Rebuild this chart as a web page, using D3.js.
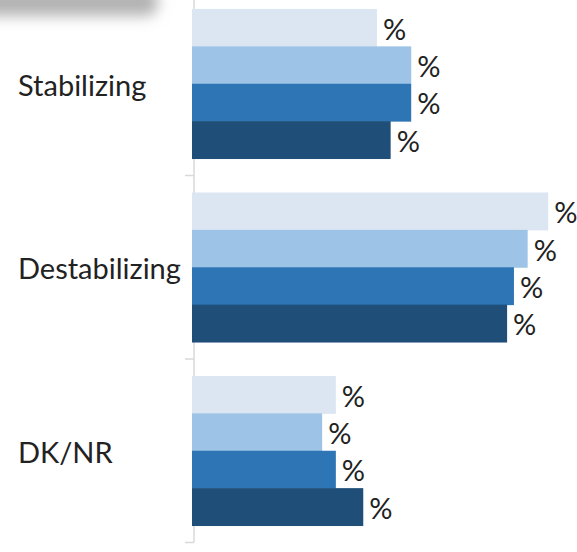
<!DOCTYPE html>
<html>
<head>
<meta charset="utf-8">
<script src="https://cdn.jsdelivr.net/npm/d3@7"></script>
<style>
  html, body { margin: 0; padding: 0; background: #fff; }
  svg { display: block; }
  text { font-family: Lato, "Open Sans", sans-serif; fill: #222; }
</style>
</head>
<body>
<svg id="chart" width="577" height="552"></svg>
<script>
const categories = ["Stabilizing", "Destabilizing", "DK/NR"];
const seriesNames = ["Series 1", "Series 2", "Series 3", "Series 4"];
const series1 = [27, 52, 21];
const series2 = [32, 49, 19];
const series3 = [32, 47, 21];
const series4 = [29, 46, 25];
const seriesValues = [series1, series2, series3, series4];
const colors = ["#dce6f2", "#9dc3e6", "#2e75b6", "#1f4e79"];

const svg = d3.select("#chart");

// soft shadow at top-left (edge of a cropped box above the chart)
const defs = svg.append("defs");
defs.append("filter").attr("id", "blur").attr("filterUnits", "userSpaceOnUse")
  .attr("x", -150).attr("y", -150).attr("width", 500).attr("height", 300)
  .append("feGaussianBlur").attr("stdDeviation", 7);
svg.append("rect")
  .attr("x", -60).attr("y", -12).attr("width", 218).attr("height", 28)
  .attr("rx", 12)
  .attr("fill", "#b3b3b3")
  .attr("filter", "url(#blur)");

const x = d3.scaleLinear().domain([0, 100]).range([192, 877]);
const y0 = d3.scaleBand().domain(categories).range([-8, 542.5])
  .paddingInner(0.185).paddingOuter(0.0925);
const y1 = d3.scaleBand().domain(d3.range(seriesNames.length)).range([0, y0.bandwidth()]);

// axis line and ticks between categories
const axisX = 194;
const boundaries = d3.range(categories.length + 1).map(i => y0.range()[0] + i * y0.step());
svg.append("line")
  .attr("x1", axisX).attr("x2", axisX)
  .attr("y1", boundaries[0]).attr("y2", boundaries[boundaries.length - 1])
  .attr("stroke", "#d9d9d9").attr("stroke-width", 1.5);
svg.selectAll("line.tick").data(boundaries).join("line")
  .attr("class", "tick")
  .attr("x1", axisX - 9).attr("x2", axisX)
  .attr("y1", d => d).attr("y2", d => d)
  .attr("stroke", "#d9d9d9").attr("stroke-width", 1.5);

const groups = svg.selectAll("g.cat").data(categories).join("g")
  .attr("class", "cat")
  .attr("transform", d => `translate(0,${y0(d)})`);

groups.selectAll("rect").data((d, ci) => seriesValues.map((s, si) => ({ si, v: s[ci] }))).join("rect")
  .attr("x", x(0))
  .attr("y", d => y1(d.si))
  .attr("width", d => x(d.v) - x(0))
  .attr("height", y1.bandwidth() + 0.5)
  .attr("fill", d => colors[d.si]);

groups.selectAll("text.val").data((d, ci) => seriesValues.map((s, si) => ({ si, v: s[ci] }))).join("text")
  .attr("class", "val")
  .attr("x", d => x(d.v) + 6)
  .attr("y", d => y1(d.si) + y1.bandwidth() / 2 + 12)
  .attr("font-size", 29)
  .text("%");

svg.selectAll("text.cat").data(categories).join("text")
  .attr("class", "cat")
  .attr("x", 18)
  .attr("y", d => y0(d) + y0.bandwidth() / 2 + 12)
  .attr("font-size", 29)
  .text(d => d);
</script>
</body>
</html>
